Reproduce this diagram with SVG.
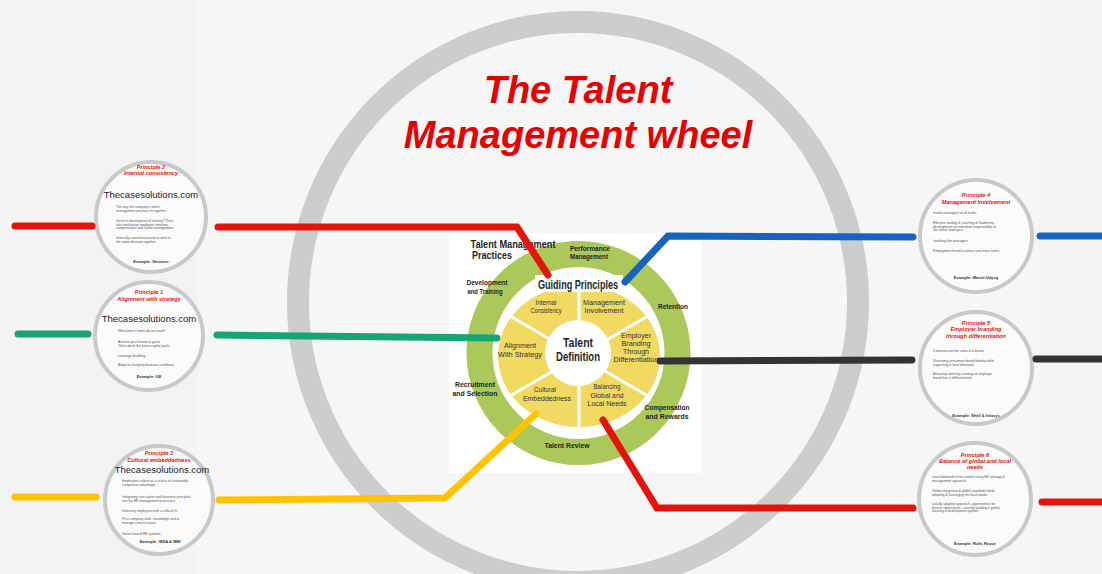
<svg xmlns="http://www.w3.org/2000/svg" width="1102" height="574" viewBox="0 0 1102 574">
<style>
.conn{fill:none;stroke-width:7;stroke-linecap:round;stroke-linejoin:miter}
.red{stroke:#e4140c}.grn{stroke:#17a673}.yel{stroke:#ffc300}.blu{stroke:#1565c0}.blk{stroke:#333333}
.pc{fill:#fbfbfb;stroke:#c9c9c9;stroke-width:4}
.ph{font-family:"Liberation Sans",Arial,sans-serif;font-weight:bold;font-style:italic;fill:#e4140c;font-size:5.6px;text-anchor:middle}
.site{font-family:"Liberation Sans",Arial,sans-serif;font-size:9.5px;fill:#222;text-anchor:middle}
.b{font-family:"Liberation Sans",Arial,sans-serif;font-size:3.3px;fill:#555}
.ex{font-family:"Liberation Sans",Arial,sans-serif;font-size:4px;font-weight:bold;fill:#333;text-anchor:middle}
.wl{font-family:"Liberation Sans Narrow","Liberation Sans",Arial,sans-serif;font-weight:bold;fill:#1e1e1e;text-anchor:middle}
.sl{font-family:"Liberation Sans Narrow","Liberation Sans",Arial,sans-serif;fill:#333;text-anchor:middle}
.title{font-family:"Liberation Sans",Arial,sans-serif;font-weight:bold;font-style:italic;fill:#e60000;font-size:38px;text-anchor:middle}
</style>
<rect x="0" y="0" width="1102" height="574" fill="#f3f3f3"/>
<rect x="198" y="0" width="842" height="574" fill="#f6f6f6"/>
<circle cx="578" cy="302" r="280" fill="none" stroke="#cdcdcd" stroke-width="22"/>
<g id="title">
<text class="title" x="578" y="103">The Talent</text>
<text class="title" x="578" y="148">Management wheel</text>
</g>
<g id="wheel">
<rect x="449" y="233" width="252" height="240" fill="#ffffff"/>
<circle cx="578.5" cy="353" r="99" fill="none" stroke="#abc85b" stroke-width="26"/>
<ellipse cx="579" cy="356" rx="81" ry="71" fill="#f1d962"/>
<g stroke="#ffffff" stroke-width="3">
<line x1="579" y1="356" x2="579" y2="280"/>
<line x1="579" y1="356" x2="648" y2="316"/>
<line x1="579" y1="356" x2="648" y2="396"/>
<line x1="579" y1="356" x2="579" y2="432"/>
<line x1="579" y1="356" x2="510" y2="396"/>
<line x1="579" y1="356" x2="510" y2="316"/>
</g>
<circle cx="578" cy="353" r="33" fill="#ffffff"/>
<rect x="535" y="275" width="88" height="17" fill="#ffffff"/>
<text class="wl" x="578" y="289" font-size="12" textLength="80" lengthAdjust="spacingAndGlyphs">Guiding Principles</text>
<text class="wl" x="578" y="347" font-size="13" textLength="30" lengthAdjust="spacingAndGlyphs">Talent</text>
<text class="wl" x="578" y="361" font-size="13" textLength="44" lengthAdjust="spacingAndGlyphs">Definition</text>
<text class="wl" x="513" y="248" font-size="10.5" textLength="85" lengthAdjust="spacingAndGlyphs">Talent Management</text>
<text class="wl" x="492" y="259" font-size="10.5" textLength="40" lengthAdjust="spacingAndGlyphs">Practices</text>
<text class="wl" x="590" y="251" font-size="7" textLength="40" lengthAdjust="spacingAndGlyphs">Performance</text>
<text class="wl" x="589" y="259" font-size="7" textLength="38" lengthAdjust="spacingAndGlyphs">Management</text>
<text class="wl" x="487" y="285" font-size="7" textLength="41" lengthAdjust="spacingAndGlyphs">Development</text>
<text class="wl" x="485" y="294" font-size="7" textLength="35" lengthAdjust="spacingAndGlyphs">and Training</text>
<text class="wl" x="673" y="309" font-size="7" textLength="30" lengthAdjust="spacingAndGlyphs">Retention</text>
<text class="wl" x="475" y="387" font-size="7" textLength="40" lengthAdjust="spacingAndGlyphs">Recruitment</text>
<text class="wl" x="475" y="396" font-size="7" textLength="45" lengthAdjust="spacingAndGlyphs">and Selection</text>
<text class="wl" x="667" y="410" font-size="7" textLength="45" lengthAdjust="spacingAndGlyphs">Compensation</text>
<text class="wl" x="667" y="419" font-size="7" textLength="43" lengthAdjust="spacingAndGlyphs">and Rewards</text>
<text class="wl" x="567" y="448" font-size="7.5" textLength="45" lengthAdjust="spacingAndGlyphs">Talent Review</text>
<text class="sl" x="546" y="305" font-size="7.5" textLength="21" lengthAdjust="spacingAndGlyphs">Internal</text>
<text class="sl" x="546" y="313" font-size="7.5" textLength="31" lengthAdjust="spacingAndGlyphs">Consistency</text>
<text class="sl" x="604" y="305" font-size="7.5" textLength="42" lengthAdjust="spacingAndGlyphs">Management</text>
<text class="sl" x="604" y="313" font-size="7.5" textLength="39" lengthAdjust="spacingAndGlyphs">Involvement</text>
<text class="sl" x="520" y="348" font-size="7.5" textLength="32" lengthAdjust="spacingAndGlyphs">Alignment</text>
<text class="sl" x="520" y="357" font-size="7.5" textLength="44" lengthAdjust="spacingAndGlyphs">With Strategy</text>
<text class="sl" x="636" y="338" font-size="7.5" textLength="30" lengthAdjust="spacingAndGlyphs">Employer</text>
<text class="sl" x="636" y="346" font-size="7.5" textLength="29" lengthAdjust="spacingAndGlyphs">Branding</text>
<text class="sl" x="636" y="354" font-size="7.5" textLength="26" lengthAdjust="spacingAndGlyphs">Through</text>
<text class="sl" x="636" y="362" font-size="7.5" textLength="45" lengthAdjust="spacingAndGlyphs">Differentiation</text>
<text class="sl" x="545" y="392" font-size="7.5" textLength="22" lengthAdjust="spacingAndGlyphs">Cultural</text>
<text class="sl" x="547" y="401" font-size="7.5" textLength="48" lengthAdjust="spacingAndGlyphs">Embeddedness</text>
<text class="sl" x="607" y="389" font-size="7.5" textLength="27" lengthAdjust="spacingAndGlyphs">Balancing</text>
<text class="sl" x="607" y="398" font-size="7.5" textLength="33" lengthAdjust="spacingAndGlyphs">Global and</text>
<text class="sl" x="607" y="406" font-size="7.5" textLength="39" lengthAdjust="spacingAndGlyphs">Local Needs</text>
</g>
<g id="principle2">
<circle class="pc" cx="151" cy="217" r="55"/>
<text class="ph" x="151" y="169">Principle 2</text>
<text class="ph" x="151" y="175">Internal consistency</text>
<text class="site" x="151" y="198">Thecasesolutions.com</text>
<text class="b" x="116" y="208">The way the company's talent</text>
<text class="b" x="116" y="212">management practices fit together</text>
<text class="b" x="116" y="222">Invest in development &amp; training? Then</text>
<text class="b" x="116" y="225.5">also emphasize employee retention,</text>
<text class="b" x="116" y="229">compensation and career management</text>
<text class="b" x="116" y="239">Internally consistent practices work in</text>
<text class="b" x="116" y="243">the same direction together</text>
<text class="ex" x="151" y="263">Example: Siemens</text>
</g>
<g id="principle1">
<circle class="pc" cx="149" cy="336" r="54"/>
<text class="ph" x="149" y="294">Principle 1</text>
<text class="ph" x="149" y="301">Alignment with strategy</text>
<text class="site" x="149" y="322">Thecasesolutions.com</text>
<text class="b" x="118" y="332">What kind of talent do we need?</text>
<text class="b" x="118" y="343">Achieve your business goals.</text>
<text class="b" x="118" y="346.5">Think about the future capital goals.</text>
<text class="b" x="118" y="357">Leverage flexibility.</text>
<text class="b" x="118" y="366">Adapt to changing business conditions.</text>
<text class="ex" x="149" y="378">Example: GE</text>
</g>
<g id="principle3">
<circle class="pc" cx="159" cy="500" r="54"/>
<text class="ph" x="159" y="455">Principle 3</text>
<text class="ph" x="159" y="462">Cultural embeddedness</text>
<text class="site" x="162" y="473">Thecasesolutions.com</text>
<text class="b" x="122" y="482">Emphasize culture as a source of sustainable</text>
<text class="b" x="122" y="485.5">competitive advantage.</text>
<text class="b" x="122" y="498">Integrating core values and business principles</text>
<text class="b" x="122" y="501.5">into the HR management processes.</text>
<text class="b" x="122" y="512">Selecting employees with a cultural fit.</text>
<text class="b" x="122" y="520">Fit in company skills, knowledge and to</text>
<text class="b" x="122" y="523.5">manage cultural values.</text>
<text class="b" x="122" y="535">Values based HR systems.</text>
<text class="ex" x="160" y="543">Example: IKEA &amp; IBM</text>
</g>
<g id="principle4">
<circle class="pc" cx="976" cy="236" r="56"/>
<text class="ph" x="976" y="197">Principle 4</text>
<text class="ph" x="976" y="204">Management involvement</text>
<text class="b" x="933" y="214">Involve managers at all levels.</text>
<text class="b" x="933" y="224">Effective leading &amp; coaching of leadership</text>
<text class="b" x="933" y="227.5">development: an individual responsibility of</text>
<text class="b" x="933" y="231">the senior managers.</text>
<text class="b" x="933" y="242">Involving line managers.</text>
<text class="b" x="933" y="252">Employment brand to attract and retain talent.</text>
<text class="ex" x="976" y="279">Example: Maruti Udyog</text>
</g>
<g id="principle5">
<circle class="pc" cx="976" cy="368" r="56"/>
<text class="ph" x="976" y="325">Principle 5</text>
<text class="ph" x="976" y="331">Employer branding</text>
<text class="ph" x="976" y="338">through differentiation</text>
<text class="b" x="933" y="352">Communicate the value of a brand.</text>
<text class="b" x="933" y="362">Illustrating consumers brand identity while</text>
<text class="b" x="933" y="365.5">supporting &amp; local demands.</text>
<text class="b" x="933" y="375">Attracting talent by creating an employer</text>
<text class="b" x="933" y="378.5">brand that is differentiated.</text>
<text class="ex" x="976" y="417">Example: Shell &amp; Infosys</text>
</g>
<g id="principle6">
<circle class="pc" cx="975" cy="499" r="56"/>
<text class="ph" x="975" y="457">Principle 6</text>
<text class="ph" x="975" y="463">Balance of global and local</text>
<text class="ph" x="975" y="469">needs</text>
<text class="b" x="932" y="478">Local demands of the market using HR strategy &amp;</text>
<text class="b" x="932" y="481.5">management approach.</text>
<text class="b" x="932" y="492">Global integration &amp; global standards while</text>
<text class="b" x="932" y="495.5">adapting &amp; leveraging the local needs.</text>
<text class="b" x="932" y="505">Locally adapted approach, opportunities for</text>
<text class="b" x="932" y="508.5">diverse talent pools, currently building a global</text>
<text class="b" x="932" y="512">learning &amp; development system.</text>
<text class="ex" x="975" y="545">Example: Rolls Royce</text>
</g>
<g id="connectors">
<line class="conn red" x1="15" y1="226" x2="92" y2="226"/>
<polyline class="conn red" points="218,227 517,227 548,275"/>
<line class="conn grn" x1="18" y1="334" x2="88" y2="334"/>
<polyline class="conn grn" points="217,335 497,338"/>
<line class="conn yel" x1="15" y1="497" x2="96" y2="497"/>
<polyline class="conn yel" points="219,500 445,498 536,414"/>
<line class="conn blu" x1="1040" y1="236" x2="1110" y2="236"/>
<polyline class="conn blu" points="913,237 668,236 625,282"/>
<line class="conn blk" x1="1036" y1="359" x2="1110" y2="359"/>
<polyline class="conn blk" points="912,360 660,361"/>
<line class="conn red" x1="1042" y1="502" x2="1110" y2="502"/>
<polyline class="conn red" points="603,420 657,508 913,508"/>
</g>
</svg>
